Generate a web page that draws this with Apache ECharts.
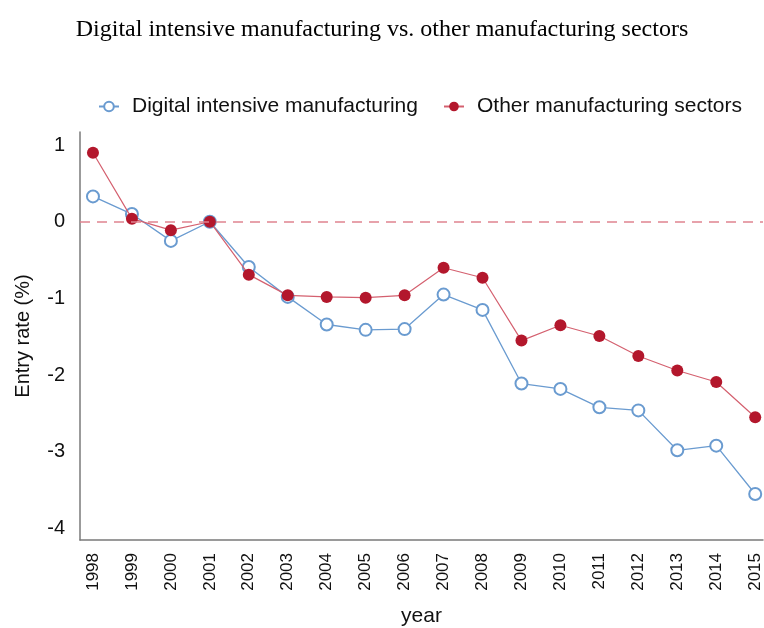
<!DOCTYPE html>
<html>
<head>
<meta charset="utf-8">
<script src="https://cdn.jsdelivr.net/npm/echarts@6/dist/echarts.min.js"></script>
<style>
  html, body { margin: 0; padding: 0; background: #fff; }
  #chart { width: 764px; height: 628px; }
</style>
</head>
<body>
<div id="chart"></div>
<script>
// Entry rates by year, 1998-2015
const years = [1998, 1999, 2000, 2001, 2002, 2003, 2004, 2005, 2006,
               2007, 2008, 2009, 2010, 2011, 2012, 2013, 2014, 2015];
const digitalIntensive = [0.33, 0.10, -0.25, 0.00, -0.59, -0.98, -1.34, -1.41, -1.40,
                          -0.95, -1.15, -2.11, -2.18, -2.42, -2.46, -2.98, -2.92, -3.55];
const otherSectors = [0.90, 0.04, -0.11, 0.00, -0.69, -0.96, -0.98, -0.99, -0.96,
                      -0.60, -0.73, -1.55, -1.35, -1.49, -1.75, -1.94, -2.09, -2.55];
const yTicks = [1, 0, -1, -2, -3, -4];

const blue = '#6a9bd0';
const red = '#b3172c';

const chart = echarts.init(document.getElementById('chart'), null, { renderer: 'canvas' });

chart.setOption({
  backgroundColor: '#fff',
  animation: false,
  title: {
    text: 'Digital intensive manufacturing vs. other manufacturing sectors',
    left: 'center',
    top: 13,
    textStyle: { fontFamily: 'Liberation Serif', fontSize: 24, fontWeight: 'normal', color: '#000' }
  },
  legend: {
    top: 91,
    left: 93,
    itemGap: 25,
    itemWidth: 20,
    itemHeight: 12,
    textStyle: { fontFamily: 'Liberation Sans', fontSize: 21, color: '#111', padding: [0, 0, 0, 8] },
    data: ['Digital intensive manufacturing', 'Other manufacturing sectors']
  },
  grid: { left: 80, right: 1, top: 132, bottom: 88, outerBoundsMode: 'none', containLabel: false },
  xAxis: {
    type: 'value',
    min: 1997.667,
    max: 2015.2,
    name: 'year',
    nameLocation: 'middle',
    nameGap: 66,
    nameTextStyle: { fontFamily: 'Liberation Sans', fontSize: 21, color: '#111' },
    axisLine: { show: true, onZero: false, lineStyle: { color: '#7a7a7a', width: 1.5 } },
    axisTick: { show: false },
    splitLine: { show: false },
    axisLabel: {
      customValues: years,
      rotate: 90,
      margin: 13,
      fontFamily: 'Liberation Sans',
      fontSize: 17,
      color: '#111',
      formatter: v => String(Math.round(v))
    }
  },
  yAxis: {
    type: 'value',
    min: -4.15,
    max: 1.17,
    name: 'Entry rate (%)',
    nameLocation: 'middle',
    nameGap: 47,
    nameRotate: 90,
    nameTextStyle: { fontFamily: 'Liberation Sans', fontSize: 20, color: '#111' },
    axisLine: { show: true, onZero: false, lineStyle: { color: '#7a7a7a', width: 1.5 } },
    axisTick: { show: false },
    splitLine: { show: false },
    axisLabel: {
      customValues: yTicks,
      margin: 15,
      fontFamily: 'Liberation Sans',
      fontSize: 20,
      color: '#111',
      formatter: v => String(Math.round(v))
    }
  },
  series: [
    {
      name: 'Digital intensive manufacturing',
      type: 'line',
      data: years.map((y, i) => [y, digitalIntensive[i]]),
      symbol: 'emptyCircle',
      symbolSize: 12,
      itemStyle: { color: blue, borderColor: blue, borderWidth: 1.2 },
      lineStyle: { color: blue, width: 1.3 },
      z: 2
    },
    {
      name: 'Other manufacturing sectors',
      type: 'line',
      data: years.map((y, i) => [y, otherSectors[i]]),
      symbol: 'circle',
      symbolSize: 12,
      itemStyle: { color: red },
      lineStyle: { color: '#d4606f', width: 1.2 },
      z: 3,
      markLine: {
        silent: true,
        symbol: 'none',
        label: { show: false },
        lineStyle: { color: '#e08490', type: [10, 7], width: 1.5 },
        data: [{ yAxis: 0 }]
      }
    }
  ]
});
</script>
</body>
</html>
